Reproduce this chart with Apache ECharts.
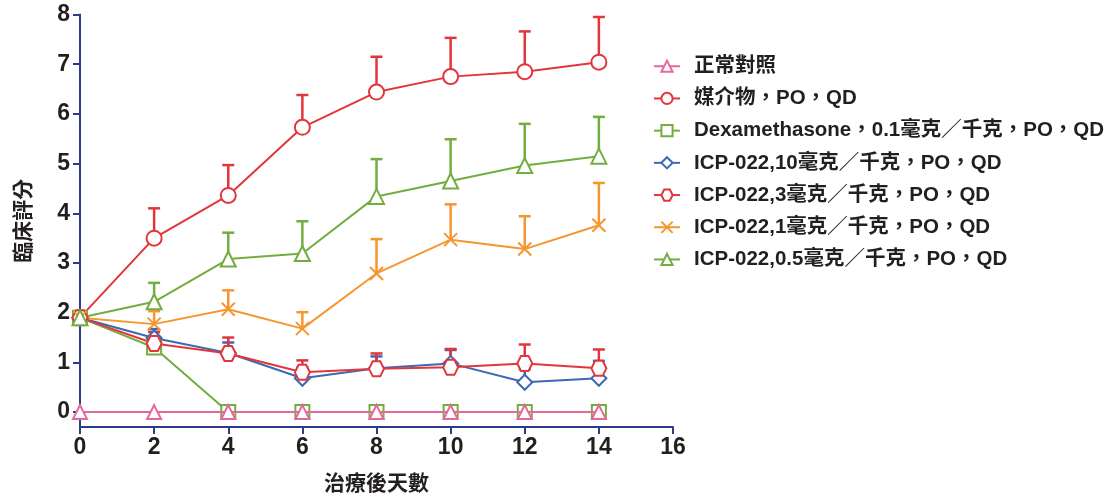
<!DOCTYPE html>
<html>
<head>
<meta charset="utf-8">
<script src="https://cdn.jsdelivr.net/npm/echarts@6/dist/echarts.min.js"></script>
<style>
  html, body { margin: 0; padding: 0; background: #fff; }
  #chart { width: 1115px; height: 497px; }
</style>
</head>
<body>
<div id="chart"></div>
<script>
// Days after treatment
const days = [0, 2, 4, 6, 8, 10, 12, 14];
const yTicks = [0, 1, 2, 3, 4, 5, 6, 7, 8];

// Group names
const names = [
  '正常對照',
  '媒介物，PO，QD',
  'Dexamethasone，0.1毫克／千克，PO，QD',
  'ICP-022,10毫克／千克，PO，QD',
  'ICP-022,3毫克／千克，PO，QD',
  'ICP-022,1毫克／千克，PO，QD',
  'ICP-022,0.5毫克／千克，PO，QD'
];

// Mean clinical scores
const normalMean = [0, 0, 0, 0, 0, 0, 0, 0];
const vehicleMean = [1.9, 3.5, 4.36, 5.73, 6.44, 6.75, 6.85, 7.04];
const dexMean = [1.9, 1.3, 0, 0, 0, 0, 0, 0];
const icp10Mean = [1.9, 1.49, 1.19, 0.68, 0.88, 0.98, 0.6, 0.68];
const icp3Mean = [1.9, 1.38, 1.18, 0.8, 0.87, 0.9, 0.98, 0.88];
const icp1Mean = [1.9, 1.77, 2.07, 1.68, 2.79, 3.47, 3.28, 3.76];
const icp05Mean = [1.9, 2.22, 3.08, 3.19, 4.34, 4.65, 4.96, 5.15];

// Upper error (SEM)
const normalErr = [0, 0, 0, 0, 0, 0, 0, 0];
const vehicleErr = [0, 0.6, 0.61, 0.65, 0.71, 0.78, 0.81, 0.91];
const dexErr = [0, 0, 0, 0, 0, 0, 0, 0];
const icp10Err = [0, 0.18, 0.21, 0.22, 0.24, 0.27, 0.26, 0.35];
const icp3Err = [0, 0.23, 0.32, 0.24, 0.31, 0.37, 0.38, 0.38];
const icp1Err = [0, 0.26, 0.38, 0.33, 0.69, 0.71, 0.66, 0.85];
const icp05Err = [0, 0.38, 0.53, 0.65, 0.75, 0.84, 0.84, 0.79];

const colors = ['#e5679d', '#e2353c', '#72ad3f', '#3c68b4', '#e2353c', '#f7952f', '#72ad3f'];
const HEX = 'path://M-1,0L-0.5,-0.87L0.5,-0.87L1,0L0.5,0.87L-0.5,0.87Z';
const CROSS = 'path://M0,0L10,10M10,0L0,10';
const symbols = ['triangle', 'circle', 'rect', 'diamond', HEX, CROSS, 'triangle'];
const sizes = [14, 15, 14, 15, 15, 13, 15];

const means = [normalMean, vehicleMean, dexMean, icp10Mean, icp3Mean, icp1Mean, icp05Mean];
const errs = [normalErr, vehicleErr, dexErr, icp10Err, icp3Err, icp1Err, icp05Err];

const axisColor = '#2e3a8c';
const latin = '"Liberation Sans", Arial, "Noto Sans CJK TC", sans-serif';
const cjk = '"Noto Sans CJK TC", "Noto Sans CJK SC", sans-serif';

const series = [];

// Upward error bars with caps
means.forEach((m, i) => {
  const data = days.map((d, k) => [d, m[k], errs[i][k]]).filter(p => p[2] > 0);
  if (!data.length) return;
  series.push({
    type: 'custom',
    z: 1,
    silent: true,
    data: data,
    renderItem: function (params, api) {
      const x = api.value(0), y = api.value(1), e = api.value(2);
      const p0 = api.coord([x, y]);
      const p1 = api.coord([x, y + e]);
      const style = { stroke: colors[i], lineWidth: 2.5, fill: null };
      return {
        type: 'group',
        children: [
          { type: 'line', shape: { x1: p0[0], y1: p0[1], x2: p1[0], y2: p1[1] }, style: style },
          { type: 'line', shape: { x1: p1[0] - 6, y1: p1[1], x2: p1[0] + 6, y2: p1[1] }, style: style }
        ]
      };
    }
  });
});

// Mean lines, drawn so the normal group sits on top
const order = [1, 2, 3, 4, 5, 6, 0];
order.forEach(i => {
  series.push({
    name: names[i],
    type: 'line',
    z: i === 0 ? 5 : 3,
    data: days.map((d, k) => [d, means[i][k]]),
    symbol: symbols[i],
    symbolSize: sizes[i],
    showAllSymbol: true,
    lineStyle: { color: colors[i], width: 2 },
    itemStyle: { color: '#ffffff', borderColor: colors[i], borderWidth: 2 },
    emphasis: { disabled: true },
    animation: false
  });
});

const chart = echarts.init(document.getElementById('chart'), null, { renderer: 'canvas' });
chart.setOption({
  animation: false,
  backgroundColor: '#ffffff',
  grid: { left: 80, right: 442, top: 14.5, bottom: 70, containLabel: false, outerBoundsMode: 'none' },
  legend: {
    orient: 'vertical',
    left: 648,
    top: 51,
    data: names,
    itemWidth: 26,
    itemHeight: 14,
    itemGap: 11.7,
    textStyle: {
      fontFamily: latin,
      fontWeight: 'bold',
      fontSize: 20.5,
      color: '#231f20',
      lineHeight: 19,
      padding: [0, 0, 0, 9]
    }
  },
  xAxis: {
    type: 'value',
    min: 0,
    max: 16,
    interval: 2,
    name: '治療後天數',
    nameLocation: 'middle',
    nameGap: 45,
    nameTextStyle: { fontFamily: cjk, fontSize: 21, fontWeight: 'bold', color: '#231f20' },
    axisLine: { onZero: false, lineStyle: { color: axisColor, width: 2 } },
    axisTick: { show: true, length: 7, lineStyle: { color: axisColor, width: 2 } },
    axisLabel: { fontFamily: latin, fontWeight: 'bold', fontSize: 23, color: '#231f20', margin: 9 },
    splitLine: { show: false }
  },
  yAxis: {
    type: 'value',
    min: -0.3,
    max: 8,
    name: '臨床評分',
    nameLocation: 'middle',
    nameRotate: 90,
    nameGap: 47,
    nameTextStyle: { fontFamily: cjk, fontSize: 21, fontWeight: 'bold', color: '#231f20' },
    axisLine: { show: true, lineStyle: { color: axisColor, width: 2 } },
    axisTick: { show: true, length: 7, customValues: yTicks, lineStyle: { color: axisColor, width: 2 } },
    axisLabel: { customValues: yTicks, fontFamily: latin, fontWeight: 'bold', fontSize: 23, color: '#231f20', margin: 10 },
    splitLine: { show: false }
  },
  series: series
});
</script>
</body>
</html>
